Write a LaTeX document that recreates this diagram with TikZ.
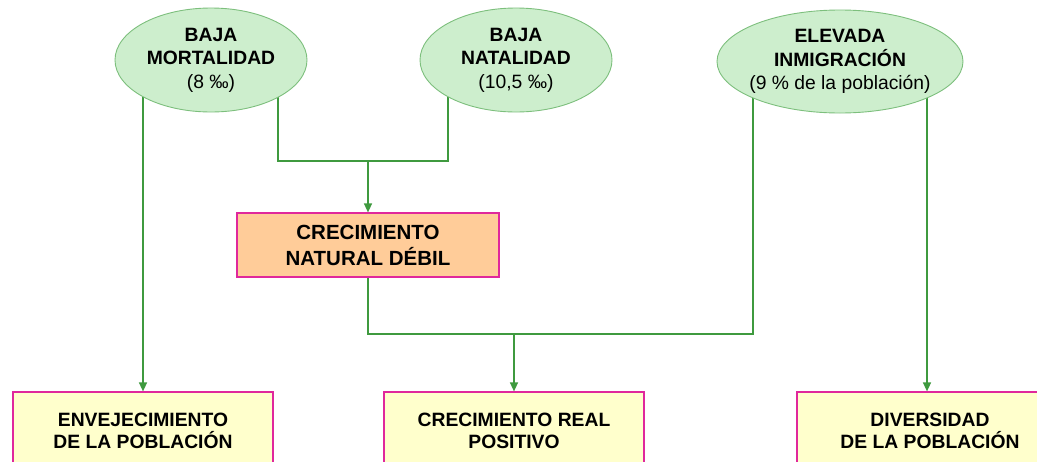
\documentclass[tikz,border=0pt]{standalone}
\usepackage{fontspec}
\setmainfont{Liberation Sans}
\usepackage{tikz}
\usetikzlibrary{positioning}
\usetikzlibrary{shapes.geometric, arrows.meta, backgrounds}
\definecolor{linkgreen}{HTML}{3F9A3F}
\definecolor{ovalline}{HTML}{7DBF7D}
\definecolor{ovalfill}{HTML}{CDEECD}
\definecolor{boxline}{HTML}{E0289C}
\definecolor{orangefill}{HTML}{FFCC99}
\definecolor{yellowfill}{HTML}{FFFFCC}
\tikzstyle{arrow} = [linkgreen,line width=1.4pt,-{Triangle[width=8pt,length=9pt]}]
\tikzstyle{link} = [linkgreen,line width=1.4pt]
\tikzstyle{cause} = [ellipse,draw=ovalline,fill=ovalfill,line width=0.9pt,inner sep=0pt,minimum height=104pt,align=center,font=\fontsize{19.3}{23.5}\selectfont\bfseries]
\tikzstyle{effect} = [rectangle,draw=boxline,fill=yellowfill,line width=1.2pt,minimum width=260pt,minimum height=78pt,align=center,font=\fontsize{19.3}{22.5}\selectfont\bfseries]

\begin{document}
\begin{tikzpicture}[x=1pt,y=-1pt]
	\useasboundingbox (0,0) rectangle (1037,461);

	%Nodes
	\node [cause,minimum width=192pt] (Mort) at (211,60) {BAJA\\MORTALIDAD\\{\mdseries (8 ‰)}};
	\node [cause,minimum width=192pt] (Nat) at (516,60) {BAJA\\NATALIDAD\\{\mdseries (10,5 ‰)}};
	\node [cause,minimum width=246pt,minimum height=103pt,inner xsep=-20pt] (Inm) at (840,61.5) {ELEVADA\\INMIGRACIÓN\\{\mdseries (9 \% de la población)}};
	\node [rectangle,draw=boxline,fill=orangefill,line width=1.2pt,minimum width=262pt,minimum height=64pt,align=center,font=\fontsize{20.5}{26}\selectfont\bfseries] (Cnat) at (368,245) {CRECIMIENTO\\NATURAL DÉBIL};
	\node [effect] (Env) at (143,431) {ENVEJECIMIENTO\\DE LA POBLACIÓN};
	\node [effect] (Creal) at (514,431) {CRECIMIENTO REAL\\POSITIVO};
	\node [effect,minimum width=266pt] (Div) at (930,431) {DIVERSIDAD\\DE LA POBLACIÓN};

	\coordinate (mortR) at (278,60);
	\coordinate (natL) at (448,60);
	\coordinate (inmL) at (753,61);
	\coordinate (inmR) at (927,61);
	\coordinate (join1) at (368,161);
	\coordinate (join2) at (514,334);

	%Lines
	\begin{scope}[on background layer]
		\draw[arrow] (Mort.center -| Env.north) -- (Env.north);
		\draw[link] (mortR) |- (join1) -| (natL);
		\draw[arrow] (join1) -- (Cnat.north);
		\draw[link] (Cnat.south) |- (join2) -| (inmL);
		\draw[arrow] (join2) -- (Creal.north);
		\draw[arrow] (inmR) -- (inmR |- Div.north);
	\end{scope}
\end{tikzpicture}
\end{document}
